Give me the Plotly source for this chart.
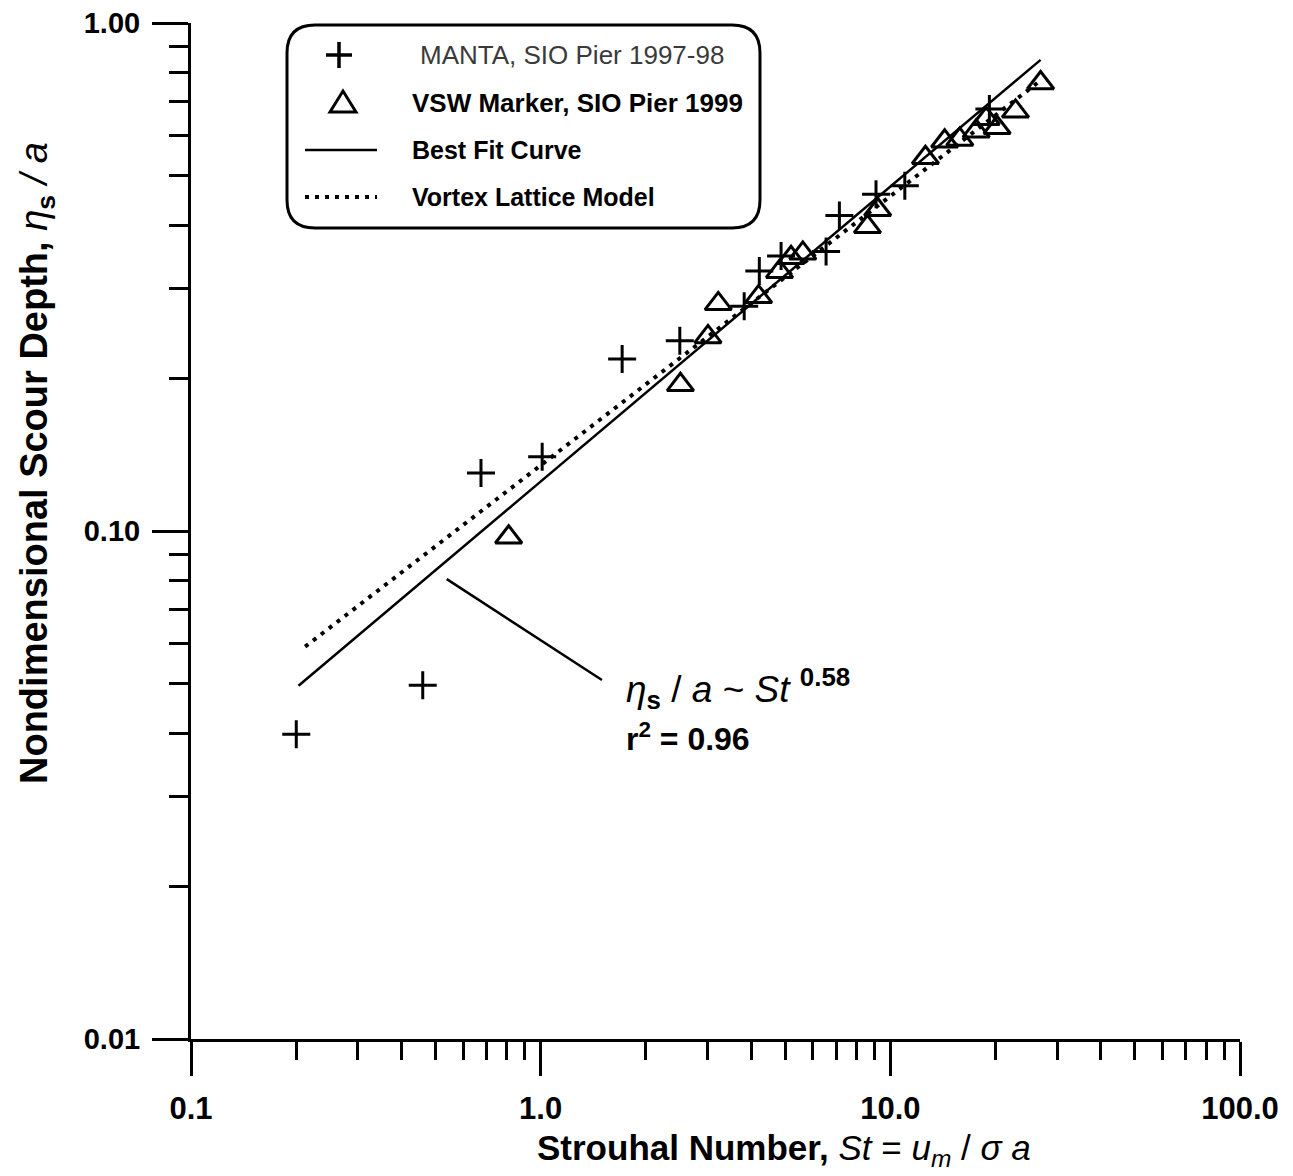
import plotly.graph_objects as go

# ---------------- data ----------------
manta_x = [0.20, 0.46, 0.675, 1.01, 1.71, 2.50, 3.82, 4.22, 4.87, 6.55, 7.15, 9.1, 11.0, 19.2]
manta_y = [0.0398, 0.0497, 0.130, 0.140, 0.218, 0.237, 0.277, 0.325, 0.348, 0.355, 0.418, 0.460, 0.478, 0.677]

vsw_x = [0.81, 2.51, 3.01, 3.22, 4.20, 4.82, 5.20, 5.62, 8.6, 9.2, 12.6, 14.3, 15.8, 17.6, 18.8, 20.2, 22.8, 26.9]
vsw_y = [0.0972, 0.194, 0.241, 0.280, 0.289, 0.324, 0.345, 0.352, 0.397, 0.429, 0.543, 0.585, 0.590, 0.612, 0.648, 0.622, 0.670, 0.762]

fit_x = [0.203, 26.9]
fit_y = [0.0496, 0.846]

vortex_x = [0.212, 26.6]
vortex_y = [0.0592, 0.766]

leader_x = [0.539, 1.497]
leader_y = [0.0804, 0.0509]

x_tickvals = [0.1, 1, 10, 100]
x_ticktext = ["0.1", "1.0", "10.0", "100.0"]
y_tickvals = [0.01, 0.1, 1]
y_ticktext = ["0.01", "0.10", "1.00"]

legend_labels = ["MANTA, SIO Pier 1997-98", "VSW Marker, SIO Pier 1999",
                 "Best Fit Curve", "Vortex Lattice Model"]

# ---------------- layout geometry (page pixels) ----------------
PAGE_W, PAGE_H = 1293, 1176
OFF = 8  # default body margin of the page
L, R, T, B = 191, 1240, 23, 1039
FONT = "Liberation Sans, Arial, Helvetica, sans-serif"


def px(xp):
    return (xp - L) / (R - L)


def py(yp):
    return (B - yp) / (B - T)


def minor_vals(lo_exp, hi_exp):
    vals = []
    for e in range(lo_exp, hi_exp):
        for k in range(2, 10):
            vals.append(k * 10.0 ** e)
    return vals


fig = go.Figure()

fig.add_trace(go.Scatter(
    x=fit_x, y=fit_y, mode="lines",
    line=dict(color="black", width=2.5), showlegend=False, hoverinfo="skip"))
fig.add_trace(go.Scatter(
    x=vortex_x, y=vortex_y, mode="lines",
    line=dict(color="black", width=4, dash="4px,6px"), showlegend=False, hoverinfo="skip"))
fig.add_trace(go.Scatter(
    x=leader_x, y=leader_y, mode="lines",
    line=dict(color="black", width=2.5), showlegend=False, hoverinfo="skip"))
fig.add_trace(go.Scatter(
    x=manta_x, y=manta_y, mode="markers", name=legend_labels[0],
    marker=dict(symbol="cross-thin", size=20, color="black",
                line=dict(color="black", width=3)),
    showlegend=False))
fig.add_trace(go.Scatter(
    x=vsw_x, y=vsw_y, mode="markers", name=legend_labels[1],
    marker=dict(symbol="triangle-up-open", size=23, color="black",
                line=dict(color="black", width=3)),
    showlegend=False))

axis_common = dict(
    type="log", showline=True, linecolor="black", linewidth=3,
    showgrid=False, zeroline=False, ticks="outside", tickcolor="black",
    tickwidth=3, tickmode="array", mirror=False, ticklabeloverflow="allow",
)

fig.update_xaxes(
    **axis_common, range=[-1, 2], tickvals=x_tickvals, ticktext=x_ticktext,
    ticklen=34, ticklabelstandoff=6,
    tickfont=dict(family=FONT, size=31, color="black", weight="bold"),
    minor=dict(ticks="outside", ticklen=18, tickwidth=2.5, tickcolor="black",
               tickmode="array", tickvals=minor_vals(-1, 2), showgrid=False),
)
fig.update_yaxes(
    **axis_common, range=[-2, 0], tickvals=y_tickvals, ticktext=y_ticktext,
    ticklen=36, ticklabelstandoff=6,
    tickfont=dict(family=FONT, size=29, color="black", weight="bold"),
    minor=dict(ticks="outside", ticklen=19, tickwidth=2.5, tickcolor="black",
               tickmode="array", tickvals=minor_vals(-2, 0), showgrid=False),
)

shapes = []
# rounded legend box
x0, x1, y0, y1, rr = 287, 760, 25, 228, 28
pts = [
    ("M", (x0 + rr, y0)), ("L", (x1 - rr, y0)), ("Q", (x1, y0), (x1, y0 + rr)),
    ("L", (x1, y1 - rr)), ("Q", (x1, y1), (x1 - rr, y1)),
    ("L", (x0 + rr, y1)), ("Q", (x0, y1), (x0, y1 - rr)),
    ("L", (x0, y0 + rr)), ("Q", (x0, y0), (x0 + rr, y0)),
]
path = ""
for item in pts:
    cmd = item[0]
    coords = " ".join(f"{px(a):.5f},{py(b):.5f}" for a, b in item[1:])
    path += f"{cmd} {coords} "
path += "Z"
shapes.append(dict(type="path", xref="paper", yref="paper", path=path,
                   line=dict(color="black", width=3), fillcolor="rgba(0,0,0,0)"))

# legend keys
cx, cy, a = 339, 55, 13
shapes.append(dict(type="path", xref="paper", yref="paper",
                   path=(f"M {px(cx - a):.5f},{py(cy):.5f} L {px(cx + a):.5f},{py(cy):.5f} "
                         f"M {px(cx):.5f},{py(cy - a):.5f} L {px(cx):.5f},{py(cy + a):.5f}"),
                   line=dict(color="black", width=3.5)))
tx, ty = 343, 103
shapes.append(dict(type="path", xref="paper", yref="paper",
                   path=(f"M {px(tx - 13):.5f},{py(ty + 9):.5f} L {px(tx + 13):.5f},{py(ty + 9):.5f} "
                         f"L {px(tx):.5f},{py(ty - 12):.5f} Z"),
                   line=dict(color="black", width=3), fillcolor="rgba(0,0,0,0)"))
shapes.append(dict(type="line", xref="paper", yref="paper",
                   x0=px(305), x1=px(377), y0=py(150), y1=py(150),
                   line=dict(color="black", width=2.5)))
shapes.append(dict(type="line", xref="paper", yref="paper",
                   x0=px(305), x1=px(377), y0=py(197), y1=py(197),
                   line=dict(color="black", width=4, dash="4px,6px")))

annotations = []
leg_rows = [(418, 55, legend_labels[0], "normal", "#3a3a3a", 26),
            (410, 103, legend_labels[1], "bold", "black", 26),
            (410, 150, legend_labels[2], "bold", "black", 25),
            (410, 197, legend_labels[3], "bold", "black", 25)]
for lx, ly, txt, wt, col, fs in leg_rows:
    annotations.append(dict(xref="paper", yref="paper", x=px(lx), y=py(ly),
                            xanchor="left", yanchor="middle", showarrow=False,
                            text=txt, font=dict(family=FONT, size=fs, color=col, weight=wt)))

# fit annotation
annotations.append(dict(
    xref="paper", yref="paper", x=px(624), y=py(688), xanchor="left", yanchor="middle",
    showarrow=False,
    text="<i>η</i><sub><b>s</b></sub> / <i>a</i> ~ <i>St</i> <sup><b>0.58</b></sup>",
    font=dict(family=FONT, size=37, color="black")))
annotations.append(dict(
    xref="paper", yref="paper", x=px(624), y=py(737), xanchor="left", yanchor="middle",
    showarrow=False,
    text="<b>r<sup>2</sup> = 0.96</b>",
    font=dict(family=FONT, size=32, color="black")))

# axis titles
annotations.append(dict(
    xref="paper", yref="paper", x=px(784), y=py(1150), xanchor="center", yanchor="middle",
    showarrow=False,
    text="<b>Strouhal Number,</b> <i>St</i> = <i>u<sub>m</sub></i> / <i>σ a</i>",
    font=dict(family=FONT, size=35, color="black")))
annotations.append(dict(
    xref="paper", yref="paper", x=px(37), y=py(463), xanchor="center", yanchor="middle",
    showarrow=False, textangle=-90,
    text="<b>Nondimensional Scour Depth,</b> <i>η</i><sub><b>s</b></sub> <i>/ a</i>",
    font=dict(family=FONT, size=38, color="black")))

fig.update_layout(
    width=PAGE_W - OFF, height=PAGE_H - OFF,
    margin=dict(l=L - OFF, r=PAGE_W - R, t=T - OFF, b=PAGE_H - B, pad=0, autoexpand=False),
    paper_bgcolor="white", plot_bgcolor="white",
    showlegend=False,
    shapes=shapes, annotations=annotations,
    font=dict(family=FONT, color="black"),
)

fig.write_html("out.html")
